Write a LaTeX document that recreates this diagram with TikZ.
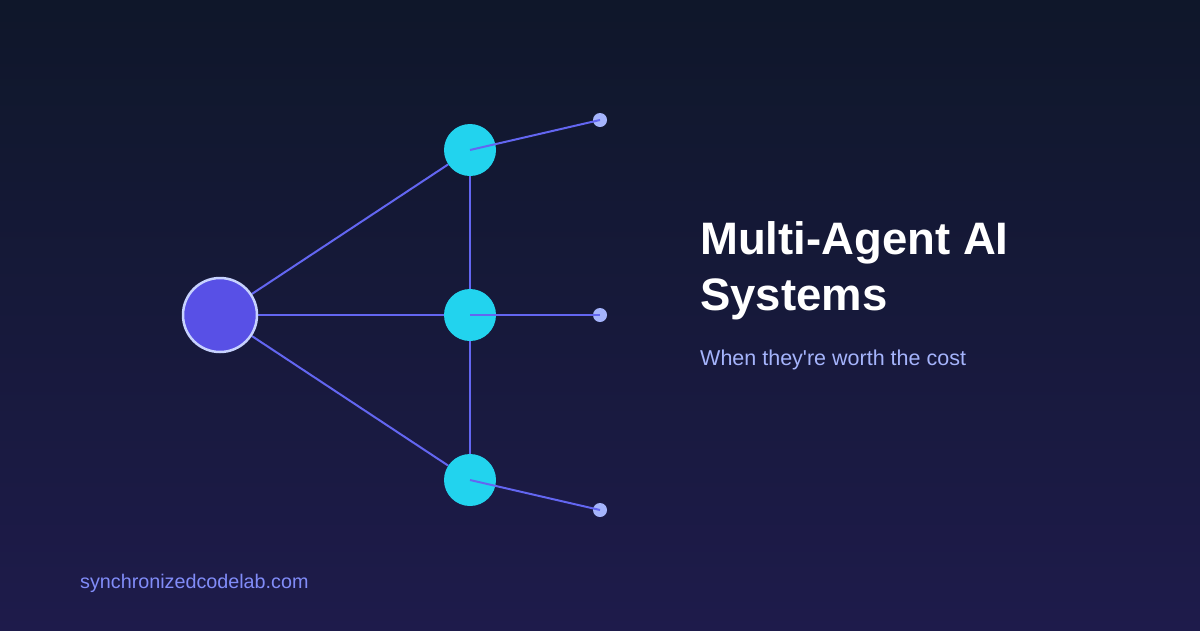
\documentclass[tikz,border=0pt]{standalone}
\usepackage{fontspec}
\setmainfont{Liberation Sans}[Ligatures=TeXOff]
\usetikzlibrary{backgrounds}
\definecolor{bgtop}{RGB}{15, 23, 42}
\definecolor{bgbottom}{RGB}{30, 27, 75}
\definecolor{hubfill}{RGB}{88, 80, 230}
\definecolor{hubrim}{RGB}{199, 210, 254}
\definecolor{agentfill}{RGB}{34, 211, 238}
\definecolor{leaffill}{RGB}{165, 180, 252}
\definecolor{linkcol}{RGB}{99, 102, 241}
\definecolor{footcol}{RGB}{129, 140, 248}

\begin{document}
\begin{tikzpicture}[x = 1pt, y = -1pt,
  hub/.style = {circle, fill = hubfill, draw = hubrim, line width = 2.5pt, minimum size = 74pt, inner sep = 0pt},
  agent/.style = {circle, fill = agentfill, minimum size = 52pt, inner sep = 0pt},
  leaf/.style = {circle, fill = leaffill, minimum size = 14pt, inner sep = 0pt},
  link/.style = {linkcol, line width = 2pt},
  words/.style = {anchor = base west, inner sep = 0pt}]
\node[hub] (hub) at (220,315) {};
\node[agent] (top) at (470,150) {};
\node[agent] (mid) at (470,315) {};
\node[agent] (bot) at (470,480) {};
\node[leaf] (topleaf) at (600,120) {};
\node[leaf] (midleaf) at (600,315) {};
\node[leaf] (botleaf) at (600,510) {};
% background and the links under the nodes
\begin{scope}[on background layer]
\shade[top color = bgtop, bottom color = bgbottom] (0,0) rectangle (1200,630);
\draw[link] (hub) -- (top);
\draw[link] (hub) -- (mid);
\draw[link] (hub) -- (bot);
\draw[link] (top) -- (bot);
\end{scope}
\draw[link] (top.center) -- (topleaf.center);
\draw[link] (mid.center) -- (midleaf.center);
\draw[link] (bot.center) -- (botleaf.center);
\node[words, text = white, font = \fontsize{45.5}{55}\selectfont\bfseries] (title) at (700,254) {Multi-Agent AI};
\node[words, text = white, font = \fontsize{45.5}{55}\selectfont\bfseries] (title2) at (700,310) {Systems};
\node[words, text = leaffill, font = \fontsize{21.5}{26}\selectfont] (subtitle) at (700,365) {When they're worth the cost};
\node[words, text = footcol, font = \fontsize{19.75}{24}\selectfont] (site) at (80,588) {synchronizedcodelab.com};
\end{tikzpicture}
\end{document}
